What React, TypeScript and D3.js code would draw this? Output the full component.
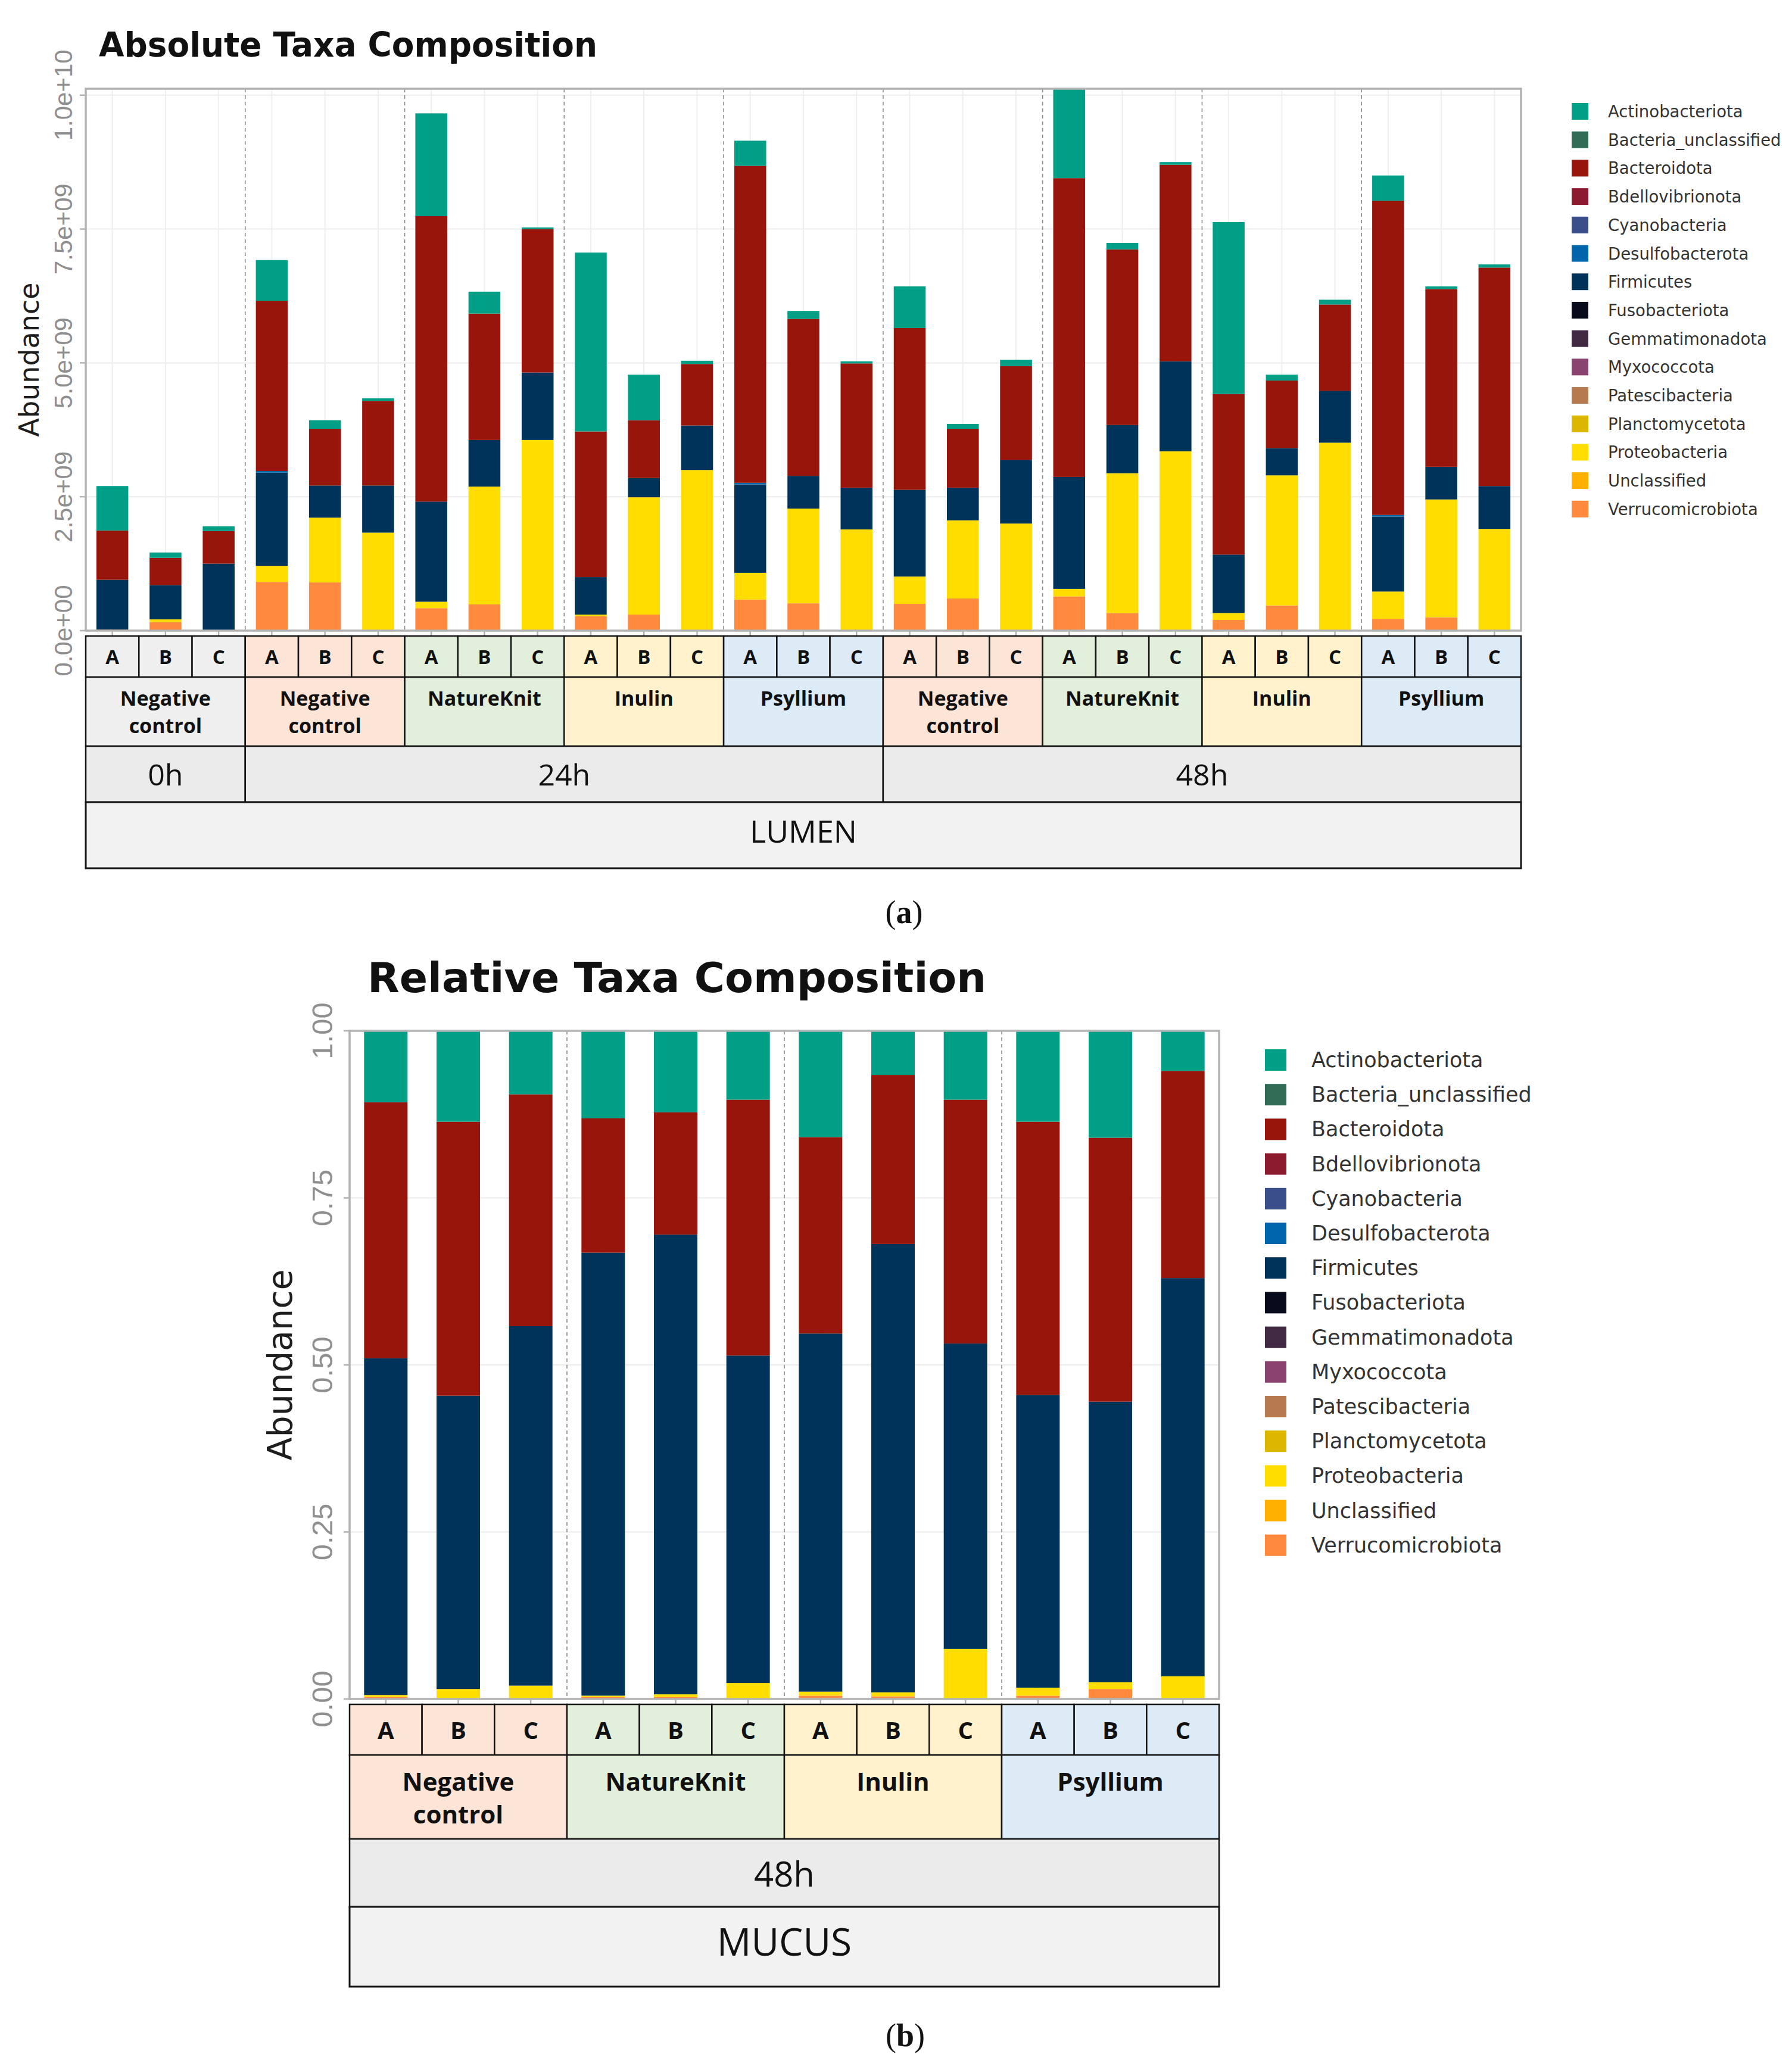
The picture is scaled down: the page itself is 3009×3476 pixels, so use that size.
import React, { useEffect } from 'react';
import * as d3 from 'd3';

// legend order (top of legend / top of each stack first)
const taxa = [
  'Actinobacteriota', 'Bacteria_unclassified', 'Bacteroidota', 'Bdellovibrionota',
  'Cyanobacteria', 'Desulfobacterota', 'Firmicutes', 'Fusobacteriota',
  'Gemmatimonadota', 'Myxococcota', 'Patescibacteria', 'Planctomycetota',
  'Proteobacteria', 'Unclassified', 'Verrucomicrobiota',
];
const taxaColors = [
  '#009f86', '#306b56', '#98150b', '#8c1b30', '#3b4e8c', '#0066ab', '#003359', '#070b1c',
  '#412843', '#8a4370', '#b77a4f', '#ddb600', '#ffdd00', '#ffb000', '#ff8a3d',
];

const replicates = ['A', 'B', 'C'];

// ---- (a) lumen, absolute abundance (x 1e9) ----
const lumenTimes = ['0h', '24h', '24h', '24h', '24h', '48h', '48h', '48h', '48h'];
const lumenTreatments = [
  'Negative control', 'Negative control', 'NatureKnit', 'Inulin', 'Psyllium',
  'Negative control', 'NatureKnit', 'Inulin', 'Psyllium',
];
const lumenVerrucomicrobiota = [0.02, 0.16, 0, 0.91, 0.9, 0, 0.42, 0.49, 0, 0.27, 0.3, 0, 0.58, 0.51, 0, 0.5, 0.6, 0, 0.64, 0.33, 0, 0.2, 0.47, 0, 0.22, 0.25, 0];
const lumenProteobacteria = [0, 0.05, 0, 0.3, 1.21, 1.83, 0.12, 2.2, 3.56, 0.03, 2.19, 3.0, 0.5, 1.77, 1.89, 0.51, 1.46, 2.0, 0.14, 2.61, 3.35, 0.13, 2.43, 3.51, 0.51, 2.2, 1.9];
const lumenFirmicutes = [0.93, 0.64, 1.25, 1.74, 0.6, 0.88, 1.87, 0.87, 1.26, 0.7, 0.36, 0.83, 1.65, 0.61, 0.78, 1.62, 0.61, 1.19, 2.09, 0.9, 1.68, 1.09, 0.51, 0.97, 1.4, 0.61, 0.8];
const lumenDesulfobacterota = [0, 0, 0, 0.03, 0, 0, 0, 0, 0, 0, 0, 0, 0.03, 0, 0, 0, 0, 0, 0, 0, 0, 0, 0, 0, 0.03, 0, 0];
const lumenBacteroidota = [0.92, 0.51, 0.61, 3.18, 1.06, 1.58, 5.33, 2.36, 2.68, 2.72, 1.08, 1.15, 5.92, 2.93, 2.32, 3.02, 1.1, 1.75, 5.58, 3.28, 3.67, 3.0, 1.26, 1.61, 5.87, 3.32, 4.08];
const lumenActinobacteriota = [0.83, 0.1, 0.09, 0.76, 0.16, 0.05, 1.92, 0.41, 0.03, 3.34, 0.85, 0.06, 0.47, 0.15, 0.04, 0.78, 0.09, 0.12, 1.68, 0.12, 0.05, 3.21, 0.11, 0.09, 0.47, 0.05, 0.06];
const lumenTicks = [0, 2.5e9, 5e9, 7.5e9, 1e10];

// ---- (b) mucus 48h, relative abundance ----
const mucusTimes = ['48h', '48h', '48h', '48h'];
const mucusTreatments = ['Negative control', 'NatureKnit', 'Inulin', 'Psyllium'];
const mucusVerrucomicrobiota = [0.003, 0, 0, 0.003, 0.003, 0, 0.005, 0.004, 0, 0.005, 0.015, 0];
const mucusProteobacteria = [0.003, 0.015, 0.02, 0.002, 0.004, 0.024, 0.006, 0.006, 0.075, 0.012, 0.01, 0.034];
const mucusFirmicutes = [0.504, 0.439, 0.538, 0.663, 0.688, 0.49, 0.536, 0.671, 0.457, 0.438, 0.42, 0.596];
const mucusBacteroidota = [0.383, 0.41, 0.347, 0.201, 0.183, 0.383, 0.294, 0.253, 0.365, 0.409, 0.395, 0.31];
const mucusActinobacteriota = [0.107, 0.136, 0.095, 0.131, 0.122, 0.103, 0.159, 0.066, 0.103, 0.136, 0.16, 0.06];
const mucusTicks = [0, 0.25, 0.5, 0.75, 1];

const treatmentFill: Record<string, string> = {
  'Negative control': '#fce4d6',
  NatureKnit: '#e2efda',
  Inulin: '#fff2cc',
  Psyllium: '#ddebf7',
};

const sciFormat = (v: number) => {
  const [m, e] = v.toExponential(1).split('e');
  return `${m}e${e[0]}${e.slice(1).padStart(2, '0')}`;
};

interface Layout {
  left: number; right: number; top: number; bottom: number;
  titleX: number; titleY: number; titleSize: number; titleLen: number;
  tickX: number; tickSize: number; axisX: number; axisSize: number;
  rows: number[]; repSize: number; treatSize: number; treatGap: number; timeSize: number; compSize: number; compShift: number;
  keyX: number; keySize: number; keyY: number; keyStep: number; legendX: number; legendSize: number;
}

interface PanelProps {
  id: string;
  title: string;
  times: string[];
  treatments: string[];
  compartment: string;
  abundance: Record<string, number[]>;
  unit: number;
  yMax: number;
  ticks: number[];
  tickFormat: (v: number) => string;
  L: Layout;
}

const TaxaPanel: React.FC<PanelProps> = ({ id, title, times, treatments, compartment, abundance, unit, yMax, ticks, tickFormat, L }) => {
  const samples = treatments.flatMap((t, g) => replicates.map((r) => `${g}-${r}`));
  const rows = samples.map((s, i) => {
    const row: Record<string, number> = {};
    taxa.forEach((t) => { row[t] = (abundance[t]?.[i] ?? 0) * unit; });
    return row;
  });
  const stackKeys = [...taxa].reverse();
  const series = d3.stack<Record<string, number>>().keys(stackKeys)(rows);
  const color = d3.scaleOrdinal<string, string>().domain(taxa).range(taxaColors);

  const x = d3.scaleBand<string>().domain(samples).range([L.left, L.right]).paddingInner(0.4).paddingOuter(0.2);
  const y = d3.scaleLinear().domain([0, yMax]).range([L.bottom, L.top]);
  const step = x.step();

  const groupFill = (g: number) => (times[g] === '0h' ? '#efefef' : treatmentFill[treatments[g]]);

  // consecutive runs of time labels
  const timeRuns: { label: string; start: number; n: number }[] = [];
  times.forEach((t, g) => {
    const last = timeRuns[timeRuns.length - 1];
    if (last && last.label === t) last.n += 1;
    else timeRuns.push({ label: t, start: g, n: 1 });
  });

  const [r0, r1, r2, r3, r4] = L.rows;
  const stripStroke = '#151515';
  const stripFont = "'Open Sans', 'Liberation Sans', sans-serif";

  return (
    <g>
      <defs>
        <clipPath id={`clip-${id}`}>
          <rect x={L.left} y={L.top} width={L.right - L.left} height={L.bottom - L.top} />
        </clipPath>
      </defs>
      <text x={L.titleX} y={L.titleY} fontFamily="'DejaVu Sans', sans-serif" fontWeight="bold" fontSize={L.titleSize}
        textLength={L.titleLen} lengthAdjust="spacingAndGlyphs" fill="#111">{title}</text>

      {/* grid */}
      {ticks.map((t) => (
        <line key={`h${t}`} x1={L.left} x2={L.right} y1={y(t)} y2={y(t)} stroke="#ececec" strokeWidth={2} />
      ))}
      {samples.map((s) => (
        <line key={`v${s}`} x1={x(s)! + x.bandwidth() / 2} x2={x(s)! + x.bandwidth() / 2} y1={L.top} y2={L.bottom} stroke="#efefef" strokeWidth={2} />
      ))}

      {/* bars */}
      <g clipPath={`url(#clip-${id})`}>
        {series.map((layer) => (
          <g key={layer.key} fill={color(layer.key)}>
            {layer.map((d, i) => (d[1] - d[0] > 0 ? (
              <rect key={i} x={x(samples[i])} width={x.bandwidth()} y={y(d[1])} height={y(d[0]) - y(d[1])} />
            ) : null))}
          </g>
        ))}
      </g>

      {/* group separators */}
      {treatments.slice(1).map((_, g) => (
        <line key={`d${g}`} x1={L.left + (g + 1) * 3 * step} x2={L.left + (g + 1) * 3 * step} y1={L.top} y2={L.bottom}
          stroke="#8a8a8a" strokeWidth={1.6} strokeDasharray="6,5" />
      ))}

      <rect x={L.left} y={L.top} width={L.right - L.left} height={L.bottom - L.top} fill="none" stroke="#b3b3b3" strokeWidth={3.5} />

      {/* y axis */}
      {ticks.map((t) => (
        <g key={`t${t}`}>
          <line x1={L.left - 10} x2={L.left} y1={y(t)} y2={y(t)} stroke="#b3b3b3" strokeWidth={2.5} />
          <text transform={`translate(${L.tickX},${y(t)}) rotate(-90)`} textAnchor="middle" dominantBaseline="central"
            fontFamily="'Liberation Sans', Arial, sans-serif" fontSize={L.tickSize} fill="#8f8f8f">{tickFormat(t)}</text>
        </g>
      ))}
      <text transform={`translate(${L.axisX},${(L.top + L.bottom) / 2}) rotate(-90)`} textAnchor="middle" dominantBaseline="central"
        fontFamily="'DejaVu Sans', sans-serif" fontSize={L.axisSize} fill="#1e1e1e">Abundance</text>

      {/* x ticks */}
      {samples.map((s) => (
        <line key={`xt${s}`} x1={x(s)! + x.bandwidth() / 2} x2={x(s)! + x.bandwidth() / 2} y1={L.bottom} y2={r0} stroke="#b3b3b3" strokeWidth={2.5} />
      ))}

      {/* strips: replicate row */}
      {samples.map((s, i) => {
        const g = Math.floor(i / 3);
        const cx = L.left + i * step;
        return (
          <g key={`r${s}`}>
            <rect x={cx} y={r0} width={step} height={r1 - r0} fill={groupFill(g)} stroke={stripStroke} strokeWidth={2.5} />
            <text x={cx + step / 2} y={(r0 + r1) / 2} textAnchor="middle" dominantBaseline="central" fontFamily={stripFont}
              fontWeight="bold" fontSize={L.repSize} fill="#111">{replicates[i % 3]}</text>
          </g>
        );
      })}
      {/* treatment row */}
      {treatments.map((t, g) => {
        const gx = L.left + g * 3 * step;
        const lines = t.split(' ');
        const mid = (r1 + r2) / 2;
        return (
          <g key={`g${g}`}>
            <rect x={gx} y={r1} width={3 * step} height={r2 - r1} fill={groupFill(g)} stroke={stripStroke} strokeWidth={2.5} />
            {lines.map((ln, k) => (
              <text key={k} x={gx + 1.5 * step} y={mid - L.treatGap / 2 + k * L.treatGap} textAnchor="middle" dominantBaseline="central"
                fontFamily={stripFont} fontWeight="bold" fontSize={L.treatSize} fill="#111">{ln}</text>
            ))}
          </g>
        );
      })}
      {/* time row */}
      {timeRuns.map((run) => (
        <g key={`tm${run.start}`}>
          <rect x={L.left + run.start * 3 * step} y={r2} width={run.n * 3 * step} height={r3 - r2} fill="#ebebeb" stroke={stripStroke} strokeWidth={2.5} />
          <text x={L.left + (run.start + run.n / 2) * 3 * step} y={(r2 + r3) / 2} textAnchor="middle" dominantBaseline="central"
            fontFamily={stripFont} fontSize={L.timeSize} fill="#111">{run.label}</text>
        </g>
      ))}
      {/* compartment row */}
      <rect x={L.left} y={r3} width={L.right - L.left} height={r4 - r3} fill="#f2f2f2" stroke={stripStroke} strokeWidth={3} />
      <text x={(L.left + L.right) / 2} y={(r3 + r4) / 2 + L.compShift} textAnchor="middle" dominantBaseline="central"
        fontFamily={stripFont} fontSize={L.compSize} fill="#111">{compartment}</text>

      {/* legend */}
      {taxa.map((t, i) => (
        <g key={`l${t}`} transform={`translate(0,${L.keyY + i * L.keyStep})`}>
          <rect x={L.keyX} y={-L.keySize / 2} width={L.keySize} height={L.keySize} fill={color(t)} />
          <text x={L.legendX} y={0} dominantBaseline="central" fontFamily="'DejaVu Sans', sans-serif" fontSize={L.legendSize} fill="#333">{t}</text>
        </g>
      ))}
    </g>
  );
};

const lumenLayout: Layout = {
  left: 144, right: 2554, top: 149, bottom: 1059,
  titleX: 166, titleY: 95, titleSize: 57, titleLen: 837,
  tickX: 106, tickSize: 42, axisX: 49, axisSize: 46,
  rows: [1068, 1137, 1253, 1347, 1458], repSize: 33, treatSize: 34, treatGap: 46, timeSize: 50, compSize: 52, compShift: -8,
  keyX: 2639, keySize: 28, keyY: 187, keyStep: 47.7, legendX: 2700, legendSize: 27.5,
};

const mucusLayout: Layout = {
  left: 587, right: 2047, top: 1731, bottom: 2853,
  titleX: 617, titleY: 1666, titleSize: 69, titleLen: 1039,
  tickX: 541, tickSize: 49, axisX: 470, axisSize: 57,
  rows: [2862, 2947, 3088, 3202, 3336], repSize: 40, treatSize: 42, treatGap: 55, timeSize: 58, compSize: 64, compShift: -10,
  keyX: 2124, keySize: 36, keyY: 1780, keyStep: 58.2, legendX: 2202, legendSize: 35,
};

export default function App() {
  useEffect(() => {
    document.body.style.margin = '0';
  }, []);

  const lumenAbundance: Record<string, number[]> = {
    Verrucomicrobiota: lumenVerrucomicrobiota,
    Proteobacteria: lumenProteobacteria,
    Firmicutes: lumenFirmicutes,
    Desulfobacterota: lumenDesulfobacterota,
    Bacteroidota: lumenBacteroidota,
    Actinobacteriota: lumenActinobacteriota,
  };
  const mucusAbundance: Record<string, number[]> = {
    Verrucomicrobiota: mucusVerrucomicrobiota,
    Proteobacteria: mucusProteobacteria,
    Firmicutes: mucusFirmicutes,
    Bacteroidota: mucusBacteroidota,
    Actinobacteriota: mucusActinobacteriota,
  };

  return (
    <svg width={3009} height={3476} style={{ display: 'block', background: '#fff' }}>
      <rect width={3009} height={3476} fill="#fff" />
      <TaxaPanel id="lumen" title="Absolute Taxa Composition" times={lumenTimes} treatments={lumenTreatments}
        compartment="LUMEN" abundance={lumenAbundance} unit={1e9} yMax={10.12e9} ticks={lumenTicks}
        tickFormat={sciFormat} L={lumenLayout} />
      <TaxaPanel id="mucus" title="Relative Taxa Composition" times={mucusTimes} treatments={mucusTreatments}
        compartment="MUCUS" abundance={mucusAbundance} unit={1} yMax={1} ticks={mucusTicks}
        tickFormat={d3.format('.2f')} L={mucusLayout} />
      <text x={1518} y={1550} textAnchor="middle" fontFamily="'Liberation Serif', serif" fontSize={54} fill="#111">
        (<tspan fontWeight="bold">a</tspan>)
      </text>
      <text x={1520} y={3436} textAnchor="middle" fontFamily="'Liberation Serif', serif" fontSize={54} fill="#111">
        (<tspan fontWeight="bold">b</tspan>)
      </text>
    </svg>
  );
}
